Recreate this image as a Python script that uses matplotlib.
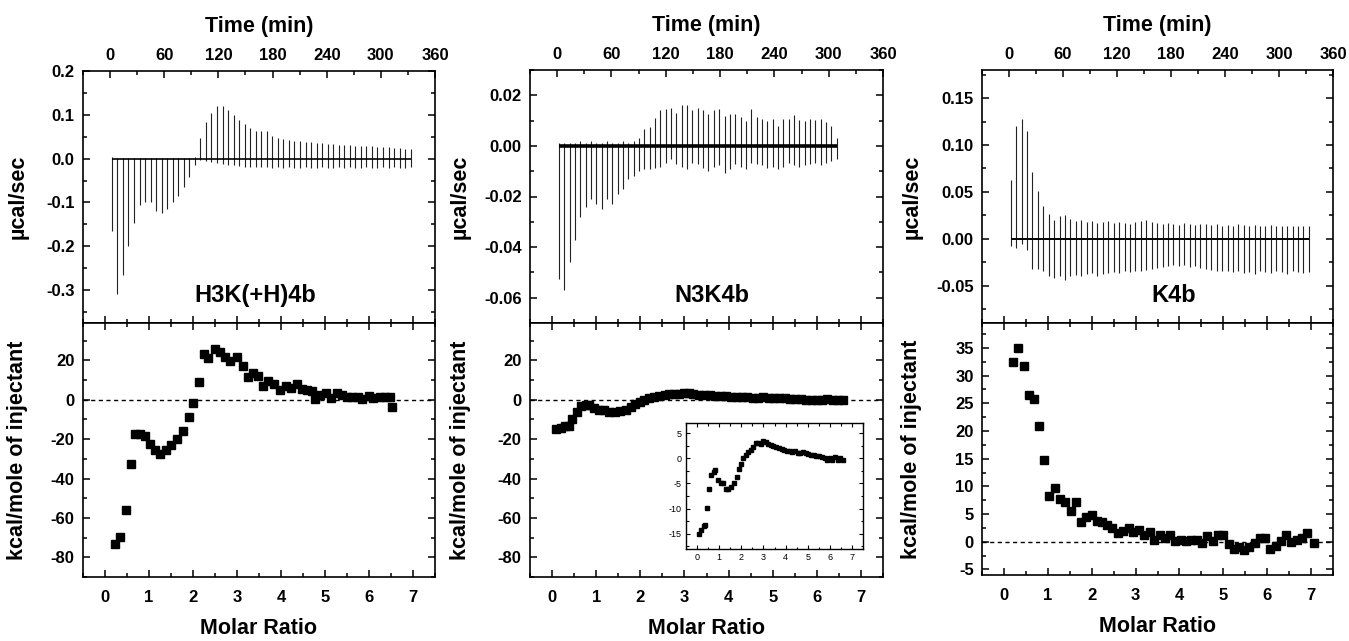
import numpy as np
import matplotlib.pyplot as plt
from matplotlib.ticker import MultipleLocator, FormatStrFormatter

plt.rcParams['font.family'] = ['Liberation Sans', 'DejaVu Sans']
plt.rcParams['axes.unicode_minus'] = False

names = ['H3K(+H)4b', 'N3K4b', 'K4b']

# raw ITC traces: first injection (min), spacing (min), spike extremes (ucal/sec)
h3k_t0, h3k_dt = 2.0, 6.13
h3k_up = [0.003, 0.002, 0.002, 0.002, 0.002, 0.002, 0.002, 0.002, 0.002, 0.002,
          0.002, 0.002, 0.002, 0.002, 0.002, 0.004,
          0.048, 0.083, 0.104, 0.120, 0.120, 0.110, 0.100, 0.088, 0.080, 0.070,
          0.062, 0.063, 0.062, 0.052, 0.048, 0.045, 0.042, 0.040, 0.040, 0.038,
          0.037, 0.036, 0.035, 0.034, 0.034, 0.032, 0.031, 0.031, 0.030, 0.029,
          0.029, 0.028, 0.027, 0.027, 0.026, 0.025, 0.024, 0.023, 0.022]
h3k_down = [-0.165, -0.308, -0.265, -0.200, -0.146, -0.106, -0.100, -0.100, -0.120, -0.123,
            -0.115, -0.100, -0.085, -0.065, -0.042, -0.015,
            -0.004, -0.006, -0.008, -0.010, -0.012, -0.014, -0.015, -0.016, -0.018, -0.018,
            -0.020, -0.019, -0.020, -0.022, -0.020, -0.021, -0.020, -0.022, -0.021, -0.020,
            -0.022, -0.021, -0.020, -0.022, -0.021, -0.020, -0.022, -0.020, -0.021, -0.022,
            -0.020, -0.021, -0.022, -0.020, -0.021, -0.020, -0.022, -0.021, -0.020]

n3k_t0, n3k_dt = 2.0, 5.9
n3k_up = [0.001, 0.001, 0.001, 0.001, 0.002, 0.001, 0.002, 0.001, 0.001, 0.002,
          0.001, 0.001, 0.002, 0.001, 0.002, 0.0033, 0.0067, 0.0073, 0.011, 0.014,
          0.0147, 0.015, 0.013, 0.016, 0.016, 0.014, 0.015, 0.014, 0.0127, 0.014,
          0.0147, 0.012, 0.0127, 0.0127, 0.0113, 0.010, 0.0147, 0.0113, 0.0107, 0.010,
          0.0107, 0.008, 0.0107, 0.0107, 0.0123, 0.0104, 0.010, 0.0107, 0.0104, 0.0107,
          0.0096, 0.008, 0.003]
n3k_down = [-0.0527, -0.057, -0.046, -0.037, -0.028, -0.024, -0.021, -0.023, -0.025, -0.021,
            -0.023, -0.019, -0.017, -0.013, -0.012, -0.010, -0.009, -0.009,
            -0.0087, -0.0083, -0.0067, -0.0053, -0.0073, -0.0083, -0.0093, -0.0067, -0.0073, -0.0087,
            -0.010, -0.0083, -0.0077, -0.0107, -0.0093, -0.0073, -0.0083, -0.0093, -0.0067, -0.0073,
            -0.0077, -0.0087, -0.0083, -0.0093, -0.0083, -0.0067, -0.0077, -0.0083, -0.0077, -0.0073,
            -0.0067, -0.0077, -0.0067, -0.006, -0.0053]

k4b_t0, k4b_dt = 2.0, 6.02
k4b_up = [0.063, 0.120, 0.128, 0.115, 0.071, 0.051, 0.035, 0.026, 0.020, 0.024,
          0.025, 0.021, 0.019, 0.020, 0.018, 0.019, 0.017, 0.018, 0.019, 0.017,
          0.018, 0.017, 0.016, 0.018, 0.019, 0.020, 0.018, 0.017, 0.016, 0.017,
          0.016, 0.015, 0.017, 0.016, 0.015, 0.016, 0.016, 0.015, 0.016, 0.014,
          0.015, 0.014, 0.016, 0.015, 0.014, 0.015, 0.014, 0.013, 0.015, 0.014,
          0.013, 0.014, 0.014, 0.013, 0.014, 0.013]
k4b_down = [-0.008, -0.010, -0.006, -0.012, -0.032, -0.032, -0.035, -0.040, -0.042, -0.040,
            -0.044, -0.040, -0.039, -0.040, -0.038, -0.037, -0.040, -0.038, -0.037, -0.036,
            -0.037, -0.035, -0.036, -0.034, -0.035, -0.033, -0.032, -0.031, -0.030, -0.029,
            -0.028, -0.029, -0.028, -0.030, -0.029, -0.031, -0.032, -0.033, -0.034, -0.035,
            -0.034, -0.036, -0.035, -0.037, -0.036, -0.038, -0.035, -0.036, -0.037, -0.035,
            -0.036, -0.038, -0.035, -0.036, -0.037, -0.036]

# integrated heats: molar ratio vs kcal/mole of injectant
h3k_ratio = [0.23, 0.34, 0.47, 0.58, 0.68, 0.80, 0.91, 1.02, 1.14, 1.25,
             1.38, 1.49, 1.63, 1.77, 1.90, 2.01, 2.13, 2.24, 2.35, 2.50,
             2.62, 2.73, 2.84, 2.99, 3.13, 3.24, 3.36, 3.47, 3.60, 3.71,
             3.84, 3.98, 4.11, 4.22, 4.36, 4.47, 4.59, 4.70, 4.78, 4.89,
             5.03, 5.14, 5.27, 5.38, 5.50, 5.61, 5.74, 5.85, 5.99, 6.10,
             6.25, 6.37, 6.48, 6.52]
h3k_heat = [-73.3, -69.7, -56.0, -32.4, -17.6, -17.6, -18.5, -22.4, -25.4, -27.7,
            -25.7, -23.2, -19.8, -15.6, -8.9, -1.5, 9.1, 23.4, 21.0, 26.0,
            24.4, 21.7, 19.7, 21.7, 17.1, 11.6, 13.8, 12.1, 7.1, 9.6,
            7.9, 4.9, 7.1, 6.2, 7.9, 5.4, 4.9, 4.5, 0.3, 2.5,
            3.7, 0.8, 3.7, 2.5, 1.5, 1.2, 1.2, 0.3, 2.0, 0.8,
            1.2, 1.2, 1.2, -3.5]

n3k_ratio = [0.08, 0.20, 0.30, 0.38, 0.45, 0.56, 0.65, 0.76, 0.83, 0.94,
             1.06, 1.18, 1.30, 1.42, 1.55, 1.67, 1.79, 1.88, 2.00, 2.09,
             2.20, 2.30, 2.42, 2.55, 2.65, 2.76, 2.88, 3.00, 3.10, 3.20,
             3.33, 3.45, 3.58, 3.70, 3.82, 3.94, 4.06, 4.18, 4.30, 4.42,
             4.55, 4.67, 4.79, 4.91, 5.03, 5.15, 5.27, 5.39, 5.50, 5.64,
             5.76, 5.88, 6.00, 6.12, 6.24, 6.36, 6.48, 6.59]
n3k_heat = [-15.0, -14.3, -13.5, -13.2, -9.9, -6.0, -3.4, -2.7, -2.4, -4.3,
            -5.0, -5.0, -6.0, -6.0, -5.7, -5.0, -3.8, -2.1, -1.1, 0.1,
            0.75, 1.2, 1.7, 2.2, 3.0, 3.0, 2.8, 3.4, 3.2, 2.8,
            2.6, 2.4, 2.2, 2.0, 1.8, 1.7, 1.5, 1.4, 1.3, 1.4,
            1.1, 1.1, 1.2, 1.0, 0.9, 0.75, 0.75, 0.55, 0.4, 0.2,
            0.1, -0.3, 0.1, -0.3, 0.2, -0.3, 0.0, -0.3]

k4b_ratio = [0.21, 0.33, 0.46, 0.58, 0.69, 0.81, 0.92, 1.03, 1.16, 1.28,
             1.39, 1.52, 1.64, 1.76, 1.87, 2.00, 2.12, 2.24, 2.34, 2.47,
             2.59, 2.71, 2.84, 2.95, 3.07, 3.20, 3.32, 3.43, 3.55, 3.68,
             3.79, 3.90, 4.03, 4.15, 4.27, 4.40, 4.51, 4.63, 4.76, 4.88,
             5.00, 5.12, 5.24, 5.35, 5.48, 5.59, 5.72, 5.83, 5.96, 6.07,
             6.20, 6.32, 6.44, 6.55, 6.68, 6.80, 6.91, 7.06]
k4b_heat = [32.5, 34.9, 31.8, 26.5, 25.8, 20.9, 14.7, 8.2, 9.7, 7.7,
            7.1, 5.6, 7.1, 3.65, 4.4, 4.8, 3.8, 3.6, 3.0, 2.4,
            1.6, 1.9, 2.4, 1.8, 2.1, 1.2, 1.8, 0.4, 1.2, 0.7,
            1.3, 0.2, 0.4, 0.2, 0.4, 0.3, -0.3, 1.0, 0.1, 1.3,
            1.2, -0.4, -1.3, -1.0, -1.4, -1.0, -0.2, 0.6, 0.7, -1.3,
            -0.7, 0.1, 1.3, -0.1, 0.3, 0.6, 1.6, -0.3]

traces = [(h3k_t0, h3k_dt, h3k_up, h3k_down),
          (n3k_t0, n3k_dt, n3k_up, n3k_down),
          (k4b_t0, k4b_dt, k4b_up, k4b_down)]
heats = [(h3k_ratio, h3k_heat), (n3k_ratio, n3k_heat), (k4b_ratio, k4b_heat)]

# layout in pixels (left, right, top, middle, bottom)
W, H = 1349, 641
cols = [(83, 435, 71, 323, 577), (530, 883, 70, 323, 577), (982, 1333, 70, 323, 575)]
top_ylims = [(-0.375, 0.2), (-0.07, 0.03), (-0.09, 0.18)]
top_major = [0.1, 0.02, 0.05]
top_fmt = ['%.1f', '%.2f', '%.2f']
bot_ylims = [(-90, 39), (-90, 39), (-6, 39.5)]
bot_major = [20, 20, 5]
name_x = [0.49, 0.515, 0.545]
base_lw = [1.2, 2.6, 1.4]
ylab_x = [-0.155, -0.168, -0.17]
TICK_FS = 12
LAB_FS = 15.5


def box(l, r, t, b):
    return [l / W, 1 - b / H, (r - l) / W, (b - t) / H]


def style(ax, fs=TICK_FS, bold=True):
    for s in ax.spines.values():
        s.set_linewidth(1.2)
    ax.tick_params(which='both', direction='in', top=True, right=True, width=1.1,
                   labelsize=fs)
    ax.tick_params(which='major', length=5)
    ax.tick_params(which='minor', length=3)
    if bold:
        for lab in ax.get_xticklabels() + ax.get_yticklabels():
            lab.set_fontweight('bold')


fig = plt.figure(figsize=(W / 100, H / 100), dpi=100)

for i in range(3):
    l, r, t, m, b = cols[i]
    t0, dt, up, down = traces[i]
    times = t0 + dt * np.arange(len(up))

    ax = fig.add_axes(box(l, r, t, m))
    ax.hlines(0, times[0], times[-1], color='black', lw=base_lw[i], zorder=3)
    ax.vlines(times, down, up, color='#222222', lw=0.8)
    ax.set_xlim(-30, 360)
    ax.set_ylim(*top_ylims[i])
    ax.xaxis.set_major_locator(MultipleLocator(60))
    ax.xaxis.set_minor_locator(MultipleLocator(30))
    ax.yaxis.set_major_locator(MultipleLocator(top_major[i]))
    ax.yaxis.set_minor_locator(MultipleLocator(top_major[i] / 2))
    ax.yaxis.set_major_formatter(FormatStrFormatter(top_fmt[i]))
    ax.xaxis.tick_top()
    ax.xaxis.set_label_position('top')
    style(ax)
    ax.tick_params(axis='x', which='both', bottom=False, pad=6)
    ax.tick_params(axis='y', pad=6)
    ax.set_xlabel('Time (min)', fontsize=LAB_FS, fontweight='bold', labelpad=11)
    ax.set_ylabel('µcal/sec', fontsize=LAB_FS, fontweight='bold')
    ax.yaxis.set_label_coords(ylab_x[i], 0.5)
    ax.text(name_x[i], 0.11, names[i], transform=ax.transAxes, ha='center',
            va='center', fontsize=17, fontweight='bold')
    # molar ratio ticks on the shared lower edge
    sec = ax.secondary_xaxis('bottom', functions=(lambda x: (x + 30) / 390 * 8 - 0.5,
                                                   lambda x: (x + 0.5) / 8 * 390 - 30))
    sec.xaxis.set_major_locator(MultipleLocator(1))
    sec.xaxis.set_minor_locator(MultipleLocator(0.5))
    sec.tick_params(which='both', direction='in', width=1.1, labelbottom=False)
    sec.tick_params(which='major', length=5)
    sec.tick_params(which='minor', length=3)
    sec.spines['bottom'].set_linewidth(1.2)

    ratio, heat = heats[i]
    bx = fig.add_axes(box(l, r, m, b))
    bx.axhline(0, color='black', lw=1.0, ls=(0, (3, 2.5)))
    bx.plot(ratio, heat, 's', color='black', ms=5.2)
    bx.set_xlim(-0.5, 7.5)
    bx.set_ylim(*bot_ylims[i])
    bx.xaxis.set_major_locator(MultipleLocator(1))
    bx.xaxis.set_minor_locator(MultipleLocator(0.5))
    bx.yaxis.set_major_locator(MultipleLocator(bot_major[i]))
    bx.yaxis.set_minor_locator(MultipleLocator(bot_major[i] / 2))
    style(bx)
    bx.tick_params(axis='x', pad=9)
    bx.tick_params(axis='y', pad=6)
    bx.set_xlabel('Molar Ratio', fontsize=LAB_FS, fontweight='bold', labelpad=10)
    bx.set_ylabel('kcal/mole of injectant', fontsize=LAB_FS, fontweight='bold')
    bx.yaxis.set_label_coords(ylab_x[i], 0.5)

# inset with the N3K4b heats on an expanded scale
ins = fig.add_axes(box(686, 863, 423, 549))
ins.plot(n3k_ratio, n3k_heat, 's', color='black', ms=2.6)
ins.set_xlim(-0.5, 7.5)
ins.set_ylim(-18, 7)
ins.xaxis.set_major_locator(MultipleLocator(1))
ins.xaxis.set_minor_locator(MultipleLocator(0.5))
ins.yaxis.set_major_locator(MultipleLocator(5))
ins.yaxis.set_minor_locator(MultipleLocator(2.5))
for s in ins.spines.values():
    s.set_linewidth(1.0)
ins.tick_params(which='both', direction='in', top=True, right=True, width=0.8, labelsize=6.5, pad=3)
ins.tick_params(which='major', length=3)
ins.tick_params(which='minor', length=1.8)

fig.savefig('out.png', dpi=100)
